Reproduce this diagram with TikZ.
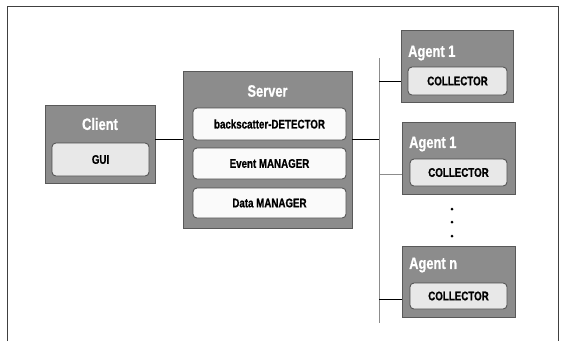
\documentclass[tikz,border=0pt]{standalone}
\usepackage{fontspec}
\setmainfont{Liberation Sans}[FakeStretch=0.78,BoldFeatures={FakeBold=0.8}]
\begin{document}
\begin{tikzpicture}[x=1pt,y=-1pt,
  outerbox/.style={draw=black!65,line width=0.9pt,fill=black!45,minimum width=#1,inner sep=0pt},
  innerbox/.style={draw=black!70,line width=0.8pt,rounded corners=4pt,inner sep=0pt,font=\fontsize{12.5}{13}\selectfont\bfseries},
  graybox/.style={innerbox,fill=black!9},
  whitebox/.style={innerbox,fill=black!2},
  title/.style={text=white,font=\fontsize{16.5}{17}\selectfont\bfseries,inner sep=0pt},
  conn/.style={line width=0.9pt,draw=black},
  gconn/.style={line width=0.9pt,draw=black!45}]
\useasboundingbox (0,0) rectangle (562,341);
\fill[white] (0,0) rectangle (562,341);
\draw[line width=1pt,black!75] (7,341) -- (7,6) -- (558,6) -- (558,341);

% Client
\node[outerbox=110pt,minimum height=78pt] (client) at (100,144) {};
\node[title] (clientt) at (100,124) {Client};
\node[graybox,minimum width=97pt,minimum height=33pt] (gui) at (100.5,159.5) {GUI};

% Server
\node[outerbox=169pt,minimum height=157pt] (server) at (267.5,149.5) {};
\node[title] (servert) at (267.5,91) {Server};
\node[whitebox,minimum width=153pt,minimum height=32pt] (bsd) at (269.5,124) {backscatter-DETECTOR};
\node[whitebox,minimum width=153pt,minimum height=31pt] (evm) at (269.5,163.5) {Event MANAGER};
\node[whitebox,minimum width=153pt,minimum height=30pt] (dam) at (269.5,203) {Data MANAGER};

% Agents
\node[outerbox=112pt,minimum height=72pt] (ag1) at (457,66) {};
\node[title,anchor=west] (ag1t) at (408,53) {Agent 1};
\node[graybox,minimum width=99pt,minimum height=28pt] (col1) at (457.5,81) {COLLECTOR};

\node[outerbox=113pt,minimum height=72pt] (ag2) at (458.5,158) {};
\node[title,anchor=west] (ag2t) at (409,144) {Agent 1};
\node[graybox,minimum width=97pt,minimum height=27pt] (col2) at (458.5,172.5) {COLLECTOR};

\node[outerbox=113pt,minimum height=71pt] (agn) at (458.5,281.5) {};
\node[title,anchor=west] (agnt) at (409,265) {Agent n};
\node[graybox,minimum width=97pt,minimum height=26pt] (coln) at (458.5,296) {COLLECTOR};

% dots
\foreach \yy/\nm in {209/d1,222/d2,236/d3}
  \fill[black] (452,\yy) circle (1.5) coordinate (\nm);

% bus and connectors
\coordinate (bustop) at (379,58);
\coordinate (busbot) at (379,323);
\draw[gconn] (bustop) -- (busbot);
\coordinate (cs) at (170,139);
\coordinate (b0) at (379,139);
\coordinate (b1) at (379,81);
\coordinate (b2) at (379,174);
\coordinate (bn) at (379,299);
\draw[conn] (client.east |- cs) -- (server.west |- cs);
\draw[conn] (server.east |- b0) -- (b0);
\draw[conn] (b1) -- (ag1.west |- b1);
\draw[gconn] (b2) -- (ag2.west |- b2);
\draw[conn] (bn) -- (agn.west |- bn);
\end{tikzpicture}
\end{document}
